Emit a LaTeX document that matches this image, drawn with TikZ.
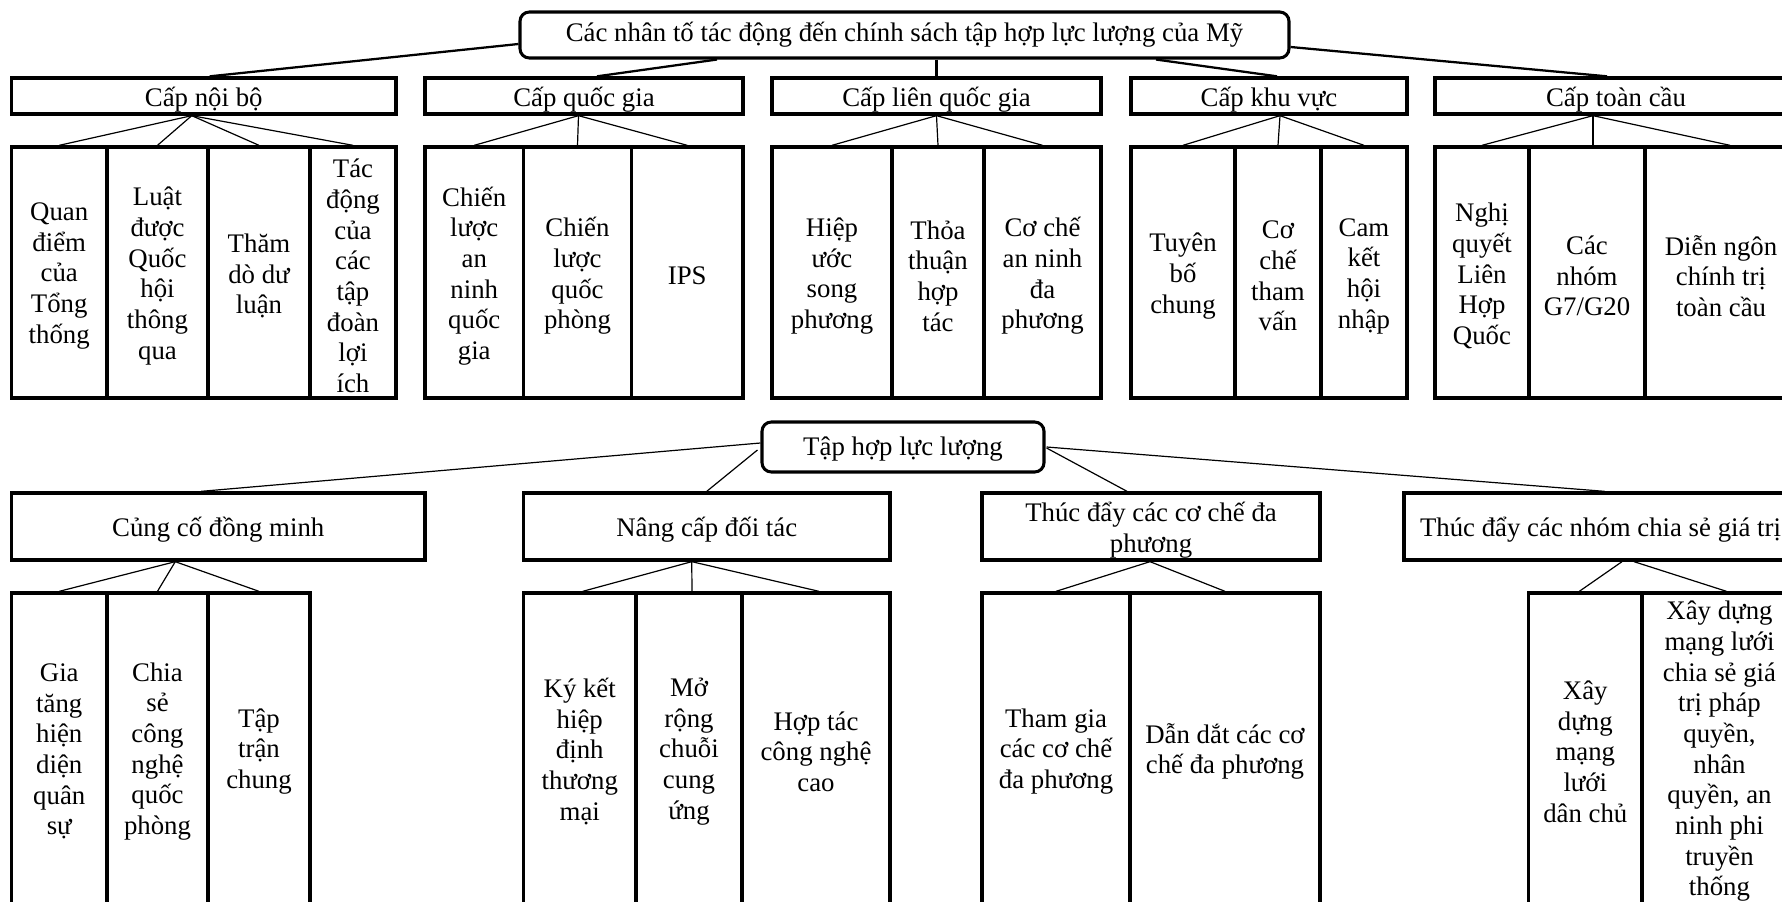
\documentclass[tikz,border=0pt]{standalone}
\usepackage{fontspec}
\setmainfont{Liberation Serif}
\usetikzlibrary{calc}
\newcommand\fsz{\fontsize{20.1}{23}\selectfont}
\newcommand\tsh{0}
% \bx{style}{name}{x1}{x2}{y1}{y2}{text}: frame node (name) + text node (name t), text shifted by \tsh px
\newcommand\bx[7]{%
  \node[#1, minimum width={(#4-#3)*0.75pt}, minimum height={(#6-#5)*0.75pt}] (#2) at ({(#3+#4)/2},{(#5+#6)/2}) {};
  \node[txtst] (#2t) at ($(#2.center)+(0,\tsh)$) {#7};}
\tikzset{
  boxst/.style={draw, line width=2.5pt, inner sep=0pt},
  roundst/.style={draw, line width=2.3pt, rounded corners=7pt, inner sep=0pt},
  txtst/.style={inner sep=0pt, align=center, font=\fsz},
  thickc/.style={line width=1.7pt},
  thinc/.style={line width=0.9pt}
}
\begin{document}
\begin{tikzpicture}[x=0.75pt,y=-0.75pt]
\useasboundingbox (0,0) rectangle (1782,902);
\fill[white] (0,0) rectangle (1782,902);
\clip (0,0) rectangle (1782,902);
% ---------- upper part ----------
\renewcommand\tsh{0}
\bx{roundst}{title}{520}{1289}{12}{58}{Các nhân tố tác động đến chính sách tập hợp lực lượng của Mỹ}
\renewcommand\tsh{3.5}
\bx{boxst}{noibo}{11.5}{396}{78}{114}{Cấp nội bộ}
\bx{boxst}{quocgia}{425}{743}{78}{114}{Cấp quốc gia}
\bx{boxst}{lienqg}{772}{1101}{78}{114}{Cấp liên quốc gia}
\bx{boxst}{khuvuc}{1131}{1407}{78}{114}{Cấp khu vực}
\bx{boxst}{toancau}{1435}{1797}{78}{114}{Cấp toàn cầu}
% group 1
\bx{boxst}{n1}{11.5}{107}{147}{398}{Quan\\điểm\\của\\Tổng\\thống}
\bx{boxst}{n2}{107}{208}{147}{398}{Luật\\được\\Quốc\\hội\\thông\\qua}
\bx{boxst}{n3}{208}{310}{147}{398}{Thăm\\dò dư\\luận}
\bx{boxst}{n4}{310}{396}{147}{398}{Tác\\động\\của\\các\\tập\\đoàn\\lợi\\ích}
% group 2
\bx{boxst}{q1}{425}{523.5}{147}{398}{Chiến\\lược\\an\\ninh\\quốc\\gia}
\bx{boxst}{q2}{523.5}{631.5}{147}{398}{Chiến\\lược\\quốc\\phòng}
\bx{boxst}{q3}{631.5}{743}{147}{398}{IPS}
% group 3
\bx{boxst}{l1}{772}{892}{147}{398}{Hiệp\\ước\\song\\phương}
\bx{boxst}{l2}{892}{984}{147}{398}{Thỏa\\thuận\\hợp\\tác}
\bx{boxst}{l3}{984}{1101}{147}{398}{Cơ chế\\an ninh\\đa\\phương}
% group 4
\bx{boxst}{k1}{1131}{1235}{147}{398}{Tuyên\\bố\\chung}
\bx{boxst}{k2}{1235}{1321}{147}{398}{Cơ\\chế\\tham\\vấn}
\bx{boxst}{k3}{1321}{1407}{147}{398}{Cam\\kết\\hội\\nhập}
% group 5
\bx{boxst}{t1}{1435}{1529}{147}{398}{Nghị\\quyết\\Liên\\Hợp\\Quốc}
\bx{boxst}{t2}{1529}{1645}{147}{398}{Các\\nhóm\\G7/G20}
\bx{boxst}{t3}{1645}{1797}{147}{398}{Diễn ngôn\\chính trị\\toàn cầu}
% connectors upper
\draw[thickc] ($(title.west)+(0,9)$) -- ($(noibo.north)+(6,0)$);
\draw[thickc] ($(title.south)+(-187.5,0)$) -- ($(quocgia.north)+(13,0)$);
\draw[thickc] (title.south -| lienqg.north) -- (lienqg.north);
\draw[thickc] ($(title.south)+(251.5,0)$) -- ($(khuvuc.north)+(8,0)$);
\draw[thickc] ($(title.east)+(0,12)$) -- ($(toancau.north)+(-9,0)$);
\coordinate (p1) at ($(noibo.south)+(-12,0)$);
\coordinate (p2) at ($(quocgia.south)+(-5.5,0)$);
\coordinate (p3) at (lienqg.south);
\coordinate (p4) at ($(khuvuc.south)+(11,0)$);
\coordinate (p5) at ($(toancau.south)+(-23,0)$);
\foreach \c in {n1,n2,n3,n4} \draw[thinc] (p1) -- (\c.north);
\foreach \c in {q1,q2,q3} \draw[thinc] (p2) -- (\c.north);
\foreach \c in {l1,l2,l3} \draw[thinc] (p3) -- (\c.north);
\foreach \c in {k1,k2,k3} \draw[thinc] (p4) -- (\c.north);
\draw[thinc] (p5) -- (t1.north);
\draw[thinc] (p5) -- ($(t2.north)+(6,0)$);
\draw[thinc] (p5) -- ($(t3.north)+(9,0)$);
% ---------- lower part ----------
\renewcommand\tsh{2}
\bx{roundst}{tap}{762}{1044}{422}{472}{Tập hợp lực lượng}
\renewcommand\tsh{3.5}
\bx{boxst}{cungco}{11.5}{425}{493}{560}{Củng cố đồng minh}
\bx{boxst}{nangcap}{523.5}{890}{493}{560}{Nâng cấp đối tác}
\bx{boxst}{thucday}{982}{1320}{493}{560}{Thúc đẩy các cơ chế đa\\phương}
\bx{boxst}{thucnhom}{1404}{1797}{493}{560}{Thúc đẩy các nhóm chia sẻ giá trị}
\renewcommand\tsh{-1}
\bx{boxst}{a1}{11.5}{107}{593}{912}{Gia\\tăng\\hiện\\diện\\quân\\sự}
\bx{boxst}{a2}{107}{208}{593}{912}{Chia\\sẻ\\công\\nghệ\\quốc\\phòng}
\bx{boxst}{a3}{208}{310}{593}{912}{Tập\\trận\\chung}
\bx{boxst}{b1}{523.5}{636}{593}{912}{Ký kết\\hiệp\\định\\thương\\mại}
\bx{boxst}{b2}{636}{742}{593}{912}{Mở\\rộng\\chuỗi\\cung\\ứng}
\bx{boxst}{b3}{742}{890}{593}{912}{Hợp tác\\công nghệ\\cao}
\bx{boxst}{c1}{982}{1130}{593}{912}{Tham gia\\các cơ chế\\đa phương}
\bx{boxst}{c2}{1130}{1320}{593}{912}{Dẫn dắt các cơ\\chế đa phương}
\bx{boxst}{d1}{1528.6}{1642}{593}{912}{Xây\\dựng\\mạng\\lưới\\dân chủ}
\bx{boxst}{d2}{1642}{1797}{593}{912}{Xây dựng\\mạng lưới\\chia sẻ giá\\trị pháp\\quyền,\\nhân\\quyền, an\\ninh phi\\truyền\\thống}
% connectors lower
\draw[thinc] ($(tap.west)+(0,-4)$) -- ($(cungco.north)+(-17,0)$);
\draw[thinc] ($(tap.west)+(-3,3)$) -- (nangcap.north);
\draw[thinc] ($(tap.east)+(1,1)$) -- ($(thucday.north)+(-24,0)$);
\draw[thinc] ($(tap.east)+(1,0)$) -- ($(thucnhom.north)+(4,0)$);
\coordinate (pa) at ($(cungco.south)+(-43,0)$);
\coordinate (pb) at ($(nangcap.south)+(-15,0)$);
\coordinate (pc) at ($(thucday.south)+(-1,0)$);
\coordinate (pdl) at ($(thucnhom.south)+(21.5,0)$);
\coordinate (pdr) at ($(thucnhom.south)+(33.5,0)$);
\foreach \c in {a1,a2,a3} \draw[thinc] (pa) -- (\c.north);
\foreach \c in {b1,b2,b3} \draw[thinc] (pb) -- ($(\c.north)+(3,0)$);
\foreach \c in {c1,c2} \draw[thinc] (pc) -- (\c.north);
\draw[thinc] (pdl) -- ($(d1.north)+(-6,0)$);
\draw[thinc] (pdr) -- ($(d2.north)+(7,0)$);
\end{tikzpicture}
\end{document}
